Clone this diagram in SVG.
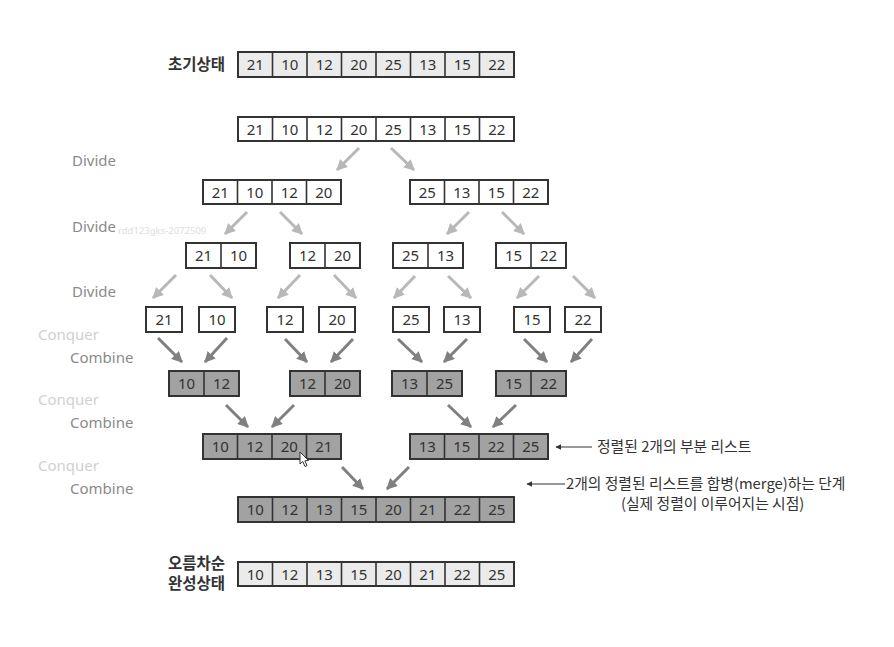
<svg xmlns="http://www.w3.org/2000/svg" width="894" height="647" viewBox="0 0 894 647">
<style>
.bx{stroke:#333;stroke-width:2}
.lt{fill:#ebebeb}
.wh{fill:#fff}
.dk{fill:#a2a2a2}
.dv{stroke:#333;stroke-width:1.6}
.n{font-family:"Noto Sans","Liberation Sans",sans-serif;font-size:15px;fill:#333;text-anchor:middle}
.lb{font-family:"Noto Sans","Liberation Sans",sans-serif;font-size:15px;fill:#8a8a8a}
.cq{font-family:"Noto Sans","Liberation Sans",sans-serif;font-size:15px;fill:#d0d0d0}
.kr{font-family:"Noto Sans CJK KR","Noto Sans",sans-serif;font-size:15.5px;fill:#333;font-weight:600}
.an{font-family:"Noto Sans CJK KR","Noto Sans",sans-serif;font-size:14.8px;fill:#333}
.ad{stroke:#b8b8b8;stroke-width:3;fill:none}
.ac{stroke:#808080;stroke-width:3;fill:none}
.aa{stroke:#333;stroke-width:1.2;fill:none}
</style>
<defs>
<marker id="mL" viewBox="0 0 10 10" refX="9" refY="5" markerWidth="11" markerHeight="11" markerUnits="userSpaceOnUse" orient="auto"><path d="M0,0 L10,5 L0,10 z" fill="#b8b8b8"/></marker>
<marker id="mD" viewBox="0 0 10 10" refX="9" refY="5" markerWidth="11" markerHeight="11" markerUnits="userSpaceOnUse" orient="auto"><path d="M0,0 L10,5 L0,10 z" fill="#808080"/></marker>
<marker id="mA" viewBox="0 0 10 10" refX="9" refY="5" markerWidth="6" markerHeight="6" markerUnits="userSpaceOnUse" orient="auto"><path d="M0,0 L10,5 L0,10 z" fill="#333"/></marker>
</defs>
<rect width="894" height="647" fill="#fff"/>

<g id="labels">
<text class="kr" x="168" y="70">초기상태</text>
<text class="lb" x="72" y="166">Divide</text>
<text class="lb" x="72" y="232">Divide</text>
<text x="118" y="234" font-family="Noto Sans,Liberation Sans,sans-serif" font-size="9.5" fill="#dedede">rdd123gks-2072509</text>
<text class="lb" x="72" y="297">Divide</text>
<text class="cq" x="38" y="340">Conquer</text>
<text class="lb" x="70" y="363">Combine</text>
<text class="cq" x="38" y="405">Conquer</text>
<text class="lb" x="70" y="428">Combine</text>
<text class="cq" x="38" y="471">Conquer</text>
<text class="lb" x="70" y="494">Combine</text>
<text class="kr" x="168" y="569">오름차순</text>
<text class="kr" x="168" y="589">완성상태</text>
</g>

<g id="row1">
<rect class="bx lt" x="238" y="52" width="276" height="25"/>
<path class="dv" d="M272.5,52V77M307,52V77M341.5,52V77M376,52V77M410.5,52V77M445,52V77M479.5,52V77"/>
<text class="n" y="70"><tspan x="255.25">21</tspan><tspan x="289.75">10</tspan><tspan x="324.25">12</tspan><tspan x="358.75">20</tspan><tspan x="393.25">25</tspan><tspan x="427.75">13</tspan><tspan x="462.25">15</tspan><tspan x="496.75">22</tspan></text>
</g>

<g id="row2">
<rect class="bx wh" x="238" y="117" width="276" height="24"/>
<path class="dv" d="M272.5,117V141M307,117V141M341.5,117V141M376,117V141M410.5,117V141M445,117V141M479.5,117V141"/>
<text class="n" y="134.5"><tspan x="255.25">21</tspan><tspan x="289.75">10</tspan><tspan x="324.25">12</tspan><tspan x="358.75">20</tspan><tspan x="393.25">25</tspan><tspan x="427.75">13</tspan><tspan x="462.25">15</tspan><tspan x="496.75">22</tspan></text>
</g>

<g id="row3-left">
<rect class="bx wh" x="203" y="180" width="138" height="24"/>
<path class="dv" d="M237.5,180V204M272,180V204M306.5,180V204"/>
<text class="n" y="197.5"><tspan x="220.25">21</tspan><tspan x="254.75">10</tspan><tspan x="289.25">12</tspan><tspan x="323.75">20</tspan></text>
</g>
<g id="row3-right">
<rect class="bx wh" x="410" y="180" width="138" height="24"/>
<path class="dv" d="M444.5,180V204M479,180V204M513.5,180V204"/>
<text class="n" y="197.5"><tspan x="427.25">25</tspan><tspan x="461.75">13</tspan><tspan x="496.25">15</tspan><tspan x="530.75">22</tspan></text>
</g>

<g id="row4-a"><rect class="bx wh" x="186" y="243" width="70" height="25"/><path class="dv" d="M221,243V268"/><text class="n" y="261"><tspan x="203.5">21</tspan><tspan x="238.5">10</tspan></text></g>
<g id="row4-b"><rect class="bx wh" x="290" y="243" width="70" height="25"/><path class="dv" d="M325,243V268"/><text class="n" y="261"><tspan x="307.5">12</tspan><tspan x="342.5">20</tspan></text></g>
<g id="row4-c"><rect class="bx wh" x="393" y="243" width="70" height="25"/><path class="dv" d="M428,243V268"/><text class="n" y="261"><tspan x="410.5">25</tspan><tspan x="445.5">13</tspan></text></g>
<g id="row4-d"><rect class="bx wh" x="496" y="243" width="70" height="25"/><path class="dv" d="M531,243V268"/><text class="n" y="261"><tspan x="513.5">15</tspan><tspan x="548.5">22</tspan></text></g>

<g id="row5-a"><rect class="bx wh" x="146" y="307" width="36" height="25"/><text class="n" x="164" y="325">21</text></g>
<g id="row5-b"><rect class="bx wh" x="199" y="307" width="36" height="25"/><text class="n" x="217" y="325">10</text></g>
<g id="row5-c"><rect class="bx wh" x="267" y="307" width="36" height="25"/><text class="n" x="285" y="325">12</text></g>
<g id="row5-d"><rect class="bx wh" x="319" y="307" width="36" height="25"/><text class="n" x="337" y="325">20</text></g>
<g id="row5-e"><rect class="bx wh" x="393" y="307" width="36" height="25"/><text class="n" x="411" y="325">25</text></g>
<g id="row5-f"><rect class="bx wh" x="444" y="307" width="36" height="25"/><text class="n" x="462" y="325">13</text></g>
<g id="row5-g"><rect class="bx wh" x="514" y="307" width="36" height="25"/><text class="n" x="532" y="325">15</text></g>
<g id="row5-h"><rect class="bx wh" x="565" y="307" width="36" height="25"/><text class="n" x="583" y="325">22</text></g>

<g id="row6-a"><rect class="bx dk" x="169" y="371" width="70" height="25"/><path class="dv" d="M204,371V396"/><text class="n" y="389"><tspan x="186.5">10</tspan><tspan x="221.5">12</tspan></text></g>
<g id="row6-b"><rect class="bx dk" x="290" y="371" width="70" height="25"/><path class="dv" d="M325,371V396"/><text class="n" y="389"><tspan x="307.5">12</tspan><tspan x="342.5">20</tspan></text></g>
<g id="row6-c"><rect class="bx dk" x="392" y="371" width="70" height="25"/><path class="dv" d="M427,371V396"/><text class="n" y="389"><tspan x="409.5">13</tspan><tspan x="444.5">25</tspan></text></g>
<g id="row6-d"><rect class="bx dk" x="496" y="371" width="70" height="25"/><path class="dv" d="M531,371V396"/><text class="n" y="389"><tspan x="513.5">15</tspan><tspan x="548.5">22</tspan></text></g>

<g id="row7-left">
<rect class="bx dk" x="203" y="434" width="138" height="25"/>
<path class="dv" d="M237.5,434V459M272,434V459M306.5,434V459"/>
<text class="n" y="452"><tspan x="220.25">10</tspan><tspan x="254.75">12</tspan><tspan x="289.25">20</tspan><tspan x="323.75">21</tspan></text>
</g>
<g id="row7-right">
<rect class="bx dk" x="410" y="434" width="138" height="25"/>
<path class="dv" d="M444.5,434V459M479,434V459M513.5,434V459"/>
<text class="n" y="452"><tspan x="427.25">13</tspan><tspan x="461.75">15</tspan><tspan x="496.25">22</tspan><tspan x="530.75">25</tspan></text>
</g>

<g id="row8">
<rect class="bx dk" x="238" y="497" width="276" height="25"/>
<path class="dv" d="M272.5,497V522M307,497V522M341.5,497V522M376,497V522M410.5,497V522M445,497V522M479.5,497V522"/>
<text class="n" y="515"><tspan x="255.25">10</tspan><tspan x="289.75">12</tspan><tspan x="324.25">13</tspan><tspan x="358.75">15</tspan><tspan x="393.25">20</tspan><tspan x="427.75">21</tspan><tspan x="462.25">22</tspan><tspan x="496.75">25</tspan></text>
</g>

<g id="row9">
<rect class="bx lt" x="238" y="562" width="276" height="24"/>
<path class="dv" d="M272.5,562V586M307,562V586M341.5,562V586M376,562V586M410.5,562V586M445,562V586M479.5,562V586"/>
<text class="n" y="579.5"><tspan x="255.25">10</tspan><tspan x="289.75">12</tspan><tspan x="324.25">13</tspan><tspan x="358.75">15</tspan><tspan x="393.25">20</tspan><tspan x="427.75">21</tspan><tspan x="462.25">22</tspan><tspan x="496.75">25</tspan></text>
</g>

<g id="connectors">
<g class="ad" marker-end="url(#mL)">
<path d="M359,148L337,170"/><path d="M391,148L414,170"/>
<path d="M247,212L225,234"/><path d="M280,212L302,234"/>
<path d="M469,212L447,234"/><path d="M502,212L524,234"/>
<path d="M176,275L153,298"/><path d="M210,275L232,298"/>
<path d="M300,275L278,298"/><path d="M334,275L356,298"/>
<path d="M415,276L394,298"/><path d="M448,276L471,298"/>
<path d="M539,276L517,298"/><path d="M573,276L595,298"/>
</g>
<g class="ac" marker-end="url(#mD)">
<path d="M158,338L182,362"/><path d="M227,338L205,362"/>
<path d="M285,339L307,362"/><path d="M353,339L331,362"/>
<path d="M398,339L422,362"/><path d="M467,339L444,362"/>
<path d="M524,339L547,362"/><path d="M592,339L571,362"/>
<path d="M226,405L248,427"/><path d="M294,405L272,427"/>
<path d="M448,405L471,427"/><path d="M516,405L493,427"/>
<path d="M342,467L363,489"/><path d="M409,467L387,489"/>
</g>
<g class="aa" marker-end="url(#mA)">
<path d="M592,447H556"/>
<path d="M565,484H527"/>
</g>
</g>

<g id="annotations">
<text class="an" x="597" y="452">정렬된 2개의 부분 리스트</text>
<text class="an" x="566" y="489">2개의 정렬된 리스트를 합병(merge)하는 단계</text>
<text class="an" x="621" y="509">(실제 정렬이 이루어지는 시점)</text>
</g>

<g id="cursor">
<path d="M300,452L300,464L302.8,461.5L305,466.5L307,465.6L304.9,460.8L308.5,460.5Z" fill="#fff" stroke="#333" stroke-width="1"/>
</g>
</svg>
